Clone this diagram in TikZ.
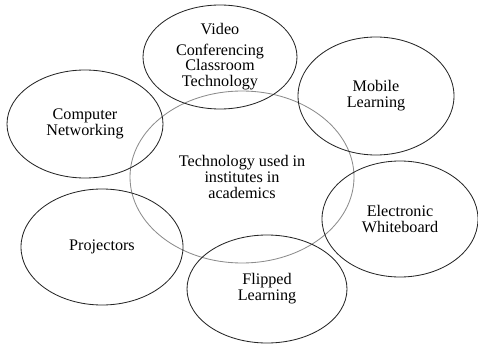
\documentclass[tikz,border=0pt]{standalone}
\usepackage{fontspec}
\setmainfont{Liberation Serif}
\usepackage{tikz}
\usetikzlibrary{shapes,positioning}

\tikzset{
    topic/.style={draw=black!85, line width=0.6pt, ellipse, inner sep=0pt, align=center,
        font=\fontsize{11.5}{11.3}\selectfont},
    hub/.style={topic, draw=black!45}
}

\begin{document}
\begin{tikzpicture}
    \useasboundingbox (0,0) rectangle (11.95,8.625);

    % Centre
    \node[hub, minimum width=5.6cm, minimum height=4.3cm] (tech) at (6.05,4.2)
        {Technology used in\\institutes in\\academics};

    % Surrounding topics
    \node[topic, minimum width=3.85cm, minimum height=2.6cm] (video) at (5.5,7.2)
        {Video\\[3pt]Conferencing\\Classroom\\Technology};
    \node[topic, minimum width=3.9cm, minimum height=2.7cm] (network) at (2.125,5.525)
        {Computer\\Networking};
    \node[topic, minimum width=3.9cm, minimum height=2.95cm] (mobile) at (9.4,6.225)
        {Mobile\\Learning};
    \node[topic, minimum width=3.9cm, minimum height=2.9cm] (board) at (10.0,3.15)
        {Electronic\\Whiteboard};
    \node[topic, minimum width=4.05cm, minimum height=2.9cm] (proj) at (2.55,2.45)
        {Projectors};
    \node[topic, minimum width=4.0cm, minimum height=2.7cm] (flipped) at (6.675,1.4)
        {Flipped\\Learning};
\end{tikzpicture}
\end{document}
